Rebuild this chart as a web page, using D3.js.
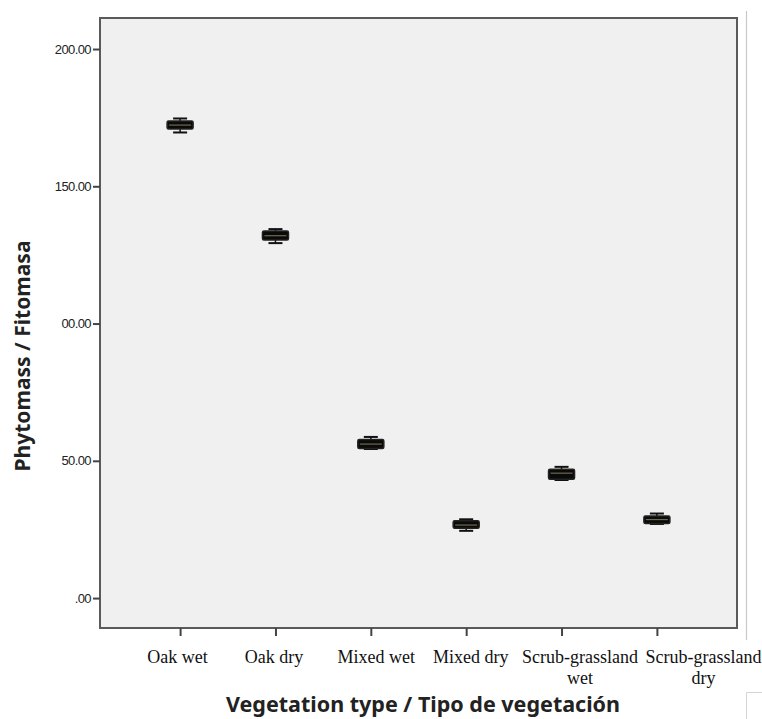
<!DOCTYPE html>
<html>
<head>
<meta charset="utf-8">
<script src="https://cdn.jsdelivr.net/npm/d3@7"></script>
<style>
  body { margin: 0; background: #fff; }
  svg { display: block; }
</style>
</head>
<body>
<svg width="762" height="719"></svg>
<script>
// categories, two-line labels split by "|"
const categories = ["Oak wet", "Oak dry", "Mixed wet", "Mixed dry", "Scrub-grassland|wet", "Scrub-grassland|dry"];
// box plot stats
const whiskerLow  = [169.6, 129.3, 54.3, 24.5, 43.0, 27.0];
const q1          = [170.9, 130.4, 54.5, 25.4, 43.3, 27.2];
const medians     = [172.3, 132.0, 56.1, 26.6, 45.5, 28.6];
const q3          = [173.8, 133.7, 57.8, 28.2, 46.9, 29.9];
const whiskerHigh = [174.7, 134.4, 58.7, 28.7, 47.8, 30.8];
const yTicks = [0, 50, 100, 150, 200];
const yTickLabels = [".00", "50.00", "00.00", "150.00", "200.00"];

const svg = d3.select("svg"),
  margin = { top: 18, right: 25, bottom: 91, left: 100 },
  width = 762 - margin.left - margin.right,
  height = 719 - margin.top - margin.bottom;

const data = categories.map((c, i) => ({
  name: c, lo: whiskerLow[i], q1: q1[i], med: medians[i], q3: q3[i], hi: whiskerHigh[i]
}));

const x = d3.scalePoint().domain(categories).range([0, width]).padding(0.84);
const y = d3.scaleLinear().domain([-10.9, 211.3]).range([height, 0]);

// stray page lines at right
svg.append("line").attr("x1", 746.5).attr("x2", 746.5).attr("y1", 11).attr("y2", 640)
  .attr("stroke", "#c8c8c8").attr("stroke-width", 1.2);
svg.append("path").attr("d", "M746.5,719V692.5H762")
  .attr("fill", "none").attr("stroke", "#d4d4d4").attr("stroke-width", 1);

const g = svg.append("g")
  .attr("transform", "translate(" + margin.left + "," + margin.top + ")");

g.append("rect")
  .attr("width", width).attr("height", height)
  .attr("fill", "#f0f0f0")
  .attr("stroke", "#5a5a5a").attr("stroke-width", 2);

// y axis
g.append("g")
  .attr("class", "axis axis--y")
  .call(d3.axisLeft(y).tickValues(yTicks).tickSize(7).tickSizeOuter(0)
    .tickFormat((d, i) => yTickLabels[i]))
  .call(a => a.select(".domain").remove())
  .call(a => a.selectAll("line").attr("stroke", "#444").attr("stroke-width", 2))
  .call(a => a.selectAll("text")
    .attr("x", -9)
    .attr("font-family", "Liberation Sans, Arial, sans-serif")
    .attr("font-size", 13)
    .attr("letter-spacing", "-0.6")
    .attr("fill", "#222"));

// x axis
const xa = g.append("g")
  .attr("class", "axis axis--x")
  .attr("transform", `translate(0, ${height})`)
  .call(d3.axisBottom(x).tickSize(8).tickSizeOuter(0))
  .call(a => a.select(".domain").remove())
  .call(a => a.selectAll("line").attr("stroke", "#444").attr("stroke-width", 2));
xa.selectAll("text").remove();
// labels sit a little off their ticks in the original
const labelShift = [-3, -2, 5, 4, 18, 46];
xa.selectAll(".tick").each(function(d, i) {
  const t = d3.select(this).append("text")
    .attr("fill", "#111")
    .attr("text-anchor", "middle")
    .attr("font-family", "Liberation Serif, Times New Roman, serif")
    .attr("font-size", 18);
  d.split("|").forEach((s, j) => {
    t.append("tspan").attr("x", labelShift[i]).attr("y", 35 + j * 21).text(s);
  });
});

// boxes
const bw = 26, cap = 14;
const box = g.selectAll(".box").data(data).enter().append("g").attr("class", "box")
  .attr("transform", d => `translate(${x(d.name)},0)`);

box.append("line").attr("y1", d => y(d.lo)).attr("y2", d => y(d.hi))
  .attr("stroke", "#111").attr("stroke-width", 1.5);
box.selectAll(".cap").data(d => [d.lo, d.hi]).enter().append("line")
  .attr("x1", -cap / 2).attr("x2", cap / 2)
  .attr("y1", v => y(v)).attr("y2", v => y(v))
  .attr("stroke", "#111").attr("stroke-width", 2);
box.append("rect")
  .attr("x", -bw / 2).attr("width", bw)
  .attr("y", d => y(d.q3)).attr("height", d => y(d.q1) - y(d.q3))
  .attr("fill", "#0a0a0a").attr("stroke", "#222").attr("stroke-width", 1.5).attr("rx", 1.5);
box.append("line")
  .attr("x1", -bw / 2 + 2).attr("x2", bw / 2 - 2)
  .attr("y1", d => y(d.med)).attr("y2", d => y(d.med))
  .attr("stroke", "#6f6a4a").attr("stroke-width", 1.2);

// titles
svg.append("text")
  .attr("transform", "translate(30," + 356 + ") rotate(-90)")
  .attr("text-anchor", "middle")
  .attr("font-family", "Noto Sans, sans-serif")
  .attr("font-weight", "bold")
  .attr("font-size", 21)
  .attr("fill", "#222")
  .text("Phytomass / Fitomasa");

svg.append("text")
  .attr("x", 423).attr("y", 712)
  .attr("text-anchor", "middle")
  .attr("font-family", "Noto Sans, sans-serif")
  .attr("font-weight", "bold")
  .attr("font-size", 21.5)
  .attr("fill", "#222")
  .text("Vegetation type / Tipo de vegetación");
</script>
</body>
</html>
